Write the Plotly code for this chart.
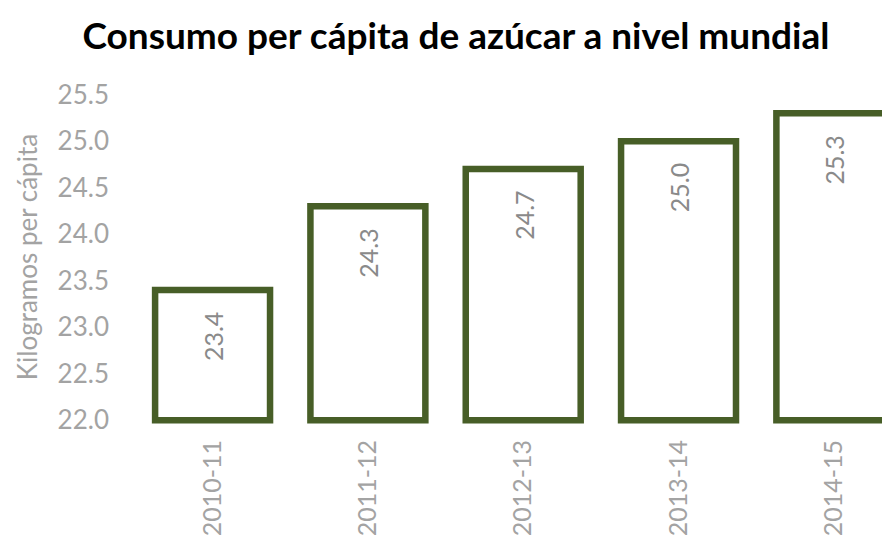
import plotly.graph_objects as go

# Consumo mundial de azúcar por persona, por campaña
campanas = ["2010-11", "2011-12", "2012-13", "2013-14", "2014-15"]
kg_per_capita = [23.4, 24.3, 24.7, 25.0, 25.3]
y_ticks = [22.0, 22.5, 23.0, 23.5, 24.0, 24.5, 25.0, 25.5]

BASE = 22.0
VERDE = "#475E27"
GRIS = "#a3a3a3"
GRIS_ETIQ = "#8a8a8a"
FUENTE = "Lato"

fig = go.Figure()
fig.add_trace(go.Bar(
    x=campanas,
    y=[v - BASE for v in kg_per_capita],
    base=BASE,
    width=0.74,
    marker=dict(color="white", line=dict(color=VERDE, width=6.5)),
    hoverinfo="skip",
))

# Etiquetas de valor giradas, justo debajo del borde superior de cada barra
for c, v in zip(campanas, kg_per_capita):
    fig.add_annotation(
        x=c, y=v, text=f"{v:.1f}", showarrow=False,
        textangle=-90, yanchor="top", yshift=-20,
        font=dict(family=FUENTE, size=25, color=GRIS_ETIQ),
    )

fig.update_layout(
    width=882, height=538,
    margin=dict(l=120, r=0, t=90, b=114),
    paper_bgcolor="white", plot_bgcolor="white",
    showlegend=False,
    title=dict(
        text="Consumo per cápita de azúcar a nivel mundial",
        x=0.517, xanchor="center", y=0.933, yanchor="middle",
        yref="container",
        font=dict(family=FUENTE, size=37, color="black", weight="bold"),
    ),
    xaxis=dict(
        type="category",
        range=[-0.596, 4.31],
        showgrid=False, showline=False, zeroline=False,
        tickangle=-90, ticklabelstandoff=10,
        tickfont=dict(family=FUENTE, size=25, color=GRIS),
    ),
    yaxis=dict(
        range=[21.96, 25.55],
        tickvals=y_ticks, ticktext=[f"{t:.1f}" for t in y_ticks],
        showgrid=False, showline=False, zeroline=False,
        ticklabelstandoff=10,
        tickfont=dict(family=FUENTE, size=26, color=GRIS),
        title=dict(text="Kilogramos per cápita", standoff=12,
                   font=dict(family=FUENTE, size=26, color=GRIS)),
    ),
)

fig.write_html("out.html")
